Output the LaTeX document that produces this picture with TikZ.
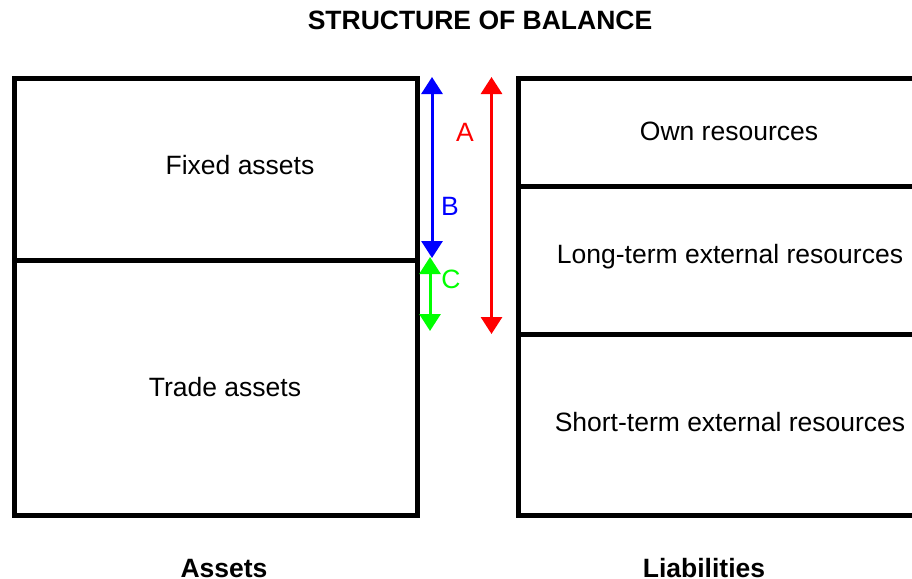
\documentclass[tikz,border=0pt]{standalone}
\usepackage{fontspec}
\setmainfont{Liberation Sans}
\usetikzlibrary{arrows.meta}
\begin{document}
\begin{tikzpicture}[x=1pt,y=-1pt,
  frame/.style={line width=5pt, line cap=butt, line join=miter},
  lbl/.style={font=\fontsize{26.5}{31}\selectfont, inner sep=0pt},
  ttl/.style={font=\fontsize{26.5}{31}\selectfont\bfseries, inner sep=0pt},
  span/.style={line width=3pt, {Triangle[width=21pt,length=17pt]}-{Triangle[width=21pt,length=17pt]}}]
\useasboundingbox[fill=white] (0,0) rectangle (912,578);

% title
\node[ttl] (title) at (480,20) {STRUCTURE OF BALANCE};

% assets block
\draw[frame] (14,78) rectangle (417,515);
\draw[frame] (14,260.5) -- (417,260.5);
\node[lbl] (fixed) at (240,165) {Fixed assets};
\node[lbl] (trade) at (225,387) {Trade assets};

% liabilities block (runs off the right edge)
\draw[frame] (912,78) -- (518,78) -- (518,515) -- (912,515);
\draw[frame] (518,186.5) -- (912,186.5);
\draw[frame] (518,334) -- (912,334);
\node[lbl] (own) at (729,131) {Own resources};
\node[lbl] (longext) at (730,257) {Long-term external resources};
\node[lbl] (shortext) at (730,422) {Short-term external resources};

% captions
\node[ttl] (assets) at (224,568.5) {Assets};
\node[ttl] (liab) at (704,568.5) {Liabilities};

% span markers
\coordinate (bTop) at (432,77);
\coordinate (bBot) at (432,258);
\coordinate (cTop) at (430,257);
\coordinate (cBot) at (430,331);
\coordinate (aTop) at (491.5,77);
\coordinate (aBot) at (491.5,334);
\draw[span, blue] (bTop) -- (bBot);
\draw[span, green] (cTop) -- (cBot);
\draw[span, red] (aTop) -- (aBot);
\node[lbl, text=red] (labA) at (465,132) {A};
\node[lbl, text=blue] (labB) at (450,206) {B};
\node[lbl, text=green] (labC) at (451,279) {C};
\end{tikzpicture}
\end{document}
